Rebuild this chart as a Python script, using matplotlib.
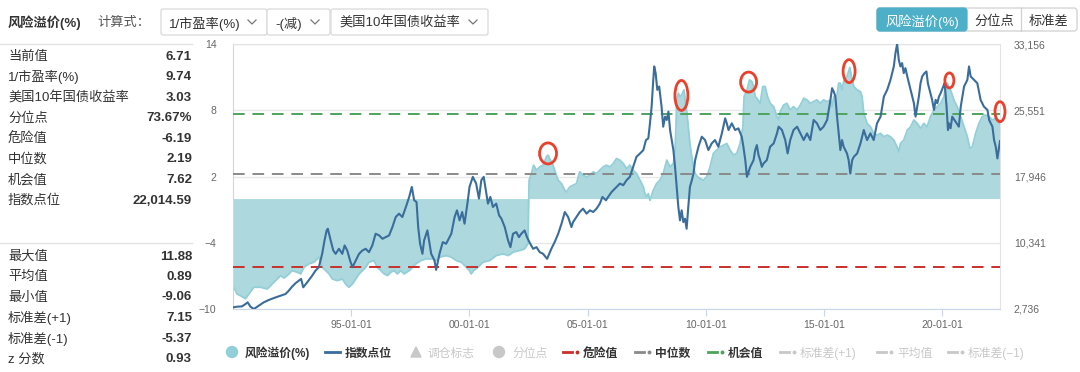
import numpy as np
import matplotlib
matplotlib.use('Agg')
import matplotlib.pyplot as plt
from matplotlib.lines import Line2D
from matplotlib.patches import Ellipse, FancyBboxPatch, Rectangle, Circle, Polygon
from matplotlib.transforms import ScaledTranslation

plt.rcParams['font.family'] = ['Liberation Sans', 'Noto Sans CJK SC', 'DejaVu Sans']

# Hang Seng index level (right axis)
idx_year = [1990.01, 1990.18, 1990.39, 1990.54, 1990.63, 1990.75, 1990.89, 1991.10, 1991.31, 1991.52,
            1991.74, 1992.02, 1992.23, 1992.37, 1992.51, 1992.65, 1992.80, 1992.89, 1992.98, 1993.15,
            1993.36, 1993.50, 1993.64, 1993.78, 1993.88, 1993.97, 1994.02, 1994.14, 1994.25, 1994.35,
            1994.49, 1994.63, 1994.73, 1994.84, 1994.96, 1995.06, 1995.20, 1995.34, 1995.48, 1995.62,
            1995.76, 1995.90, 1996.04, 1996.19, 1996.33, 1996.47, 1996.61, 1996.75, 1996.89, 1997.03,
            1997.17, 1997.32, 1997.46, 1997.57, 1997.67, 1997.77, 1997.84, 1997.92, 1998.02, 1998.09,
            1998.23, 1998.39, 1998.53, 1998.60, 1998.74, 1998.88, 1999.02, 1999.24, 1999.38, 1999.48,
            1999.59, 1999.70, 1999.80, 1999.94, 2000.01, 2000.15, 2000.29, 2000.41, 2000.51, 2000.61,
            2000.72, 2000.79, 2000.89, 2001.00, 2001.14, 2001.26, 2001.36, 2001.50, 2001.64, 2001.74,
            2001.85, 2001.99, 2002.10, 2002.20, 2002.34, 2002.44, 2002.58, 2002.70, 2002.84, 2002.98,
            2003.12, 2003.29, 2003.47, 2003.61, 2003.76, 2003.90, 2004.04, 2004.18, 2004.32, 2004.39,
            2004.53, 2004.67, 2004.81, 2004.96, 2005.10, 2005.24, 2005.38, 2005.52, 2005.63, 2005.78,
            2005.87, 2006.02, 2006.16, 2006.37, 2006.51, 2006.65, 2006.79, 2006.93, 2007.07, 2007.22,
            2007.36, 2007.47, 2007.57, 2007.64, 2007.71, 2007.78, 2007.82, 2007.88, 2007.95, 2008.03,
            2008.13, 2008.20, 2008.28, 2008.35, 2008.42, 2008.49, 2008.56, 2008.63, 2008.70, 2008.77,
            2008.84, 2008.91, 2008.98, 2009.05, 2009.12, 2009.19, 2009.26, 2009.33, 2009.41, 2009.48,
            2009.55, 2009.69, 2009.83, 2009.97, 2010.11, 2010.25, 2010.39, 2010.53, 2010.68, 2010.82,
            2010.89, 2010.96, 2011.10, 2011.24, 2011.38, 2011.52, 2011.59, 2011.67, 2011.74, 2011.81,
            2011.88, 2011.95, 2012.02, 2012.09, 2012.16, 2012.23, 2012.30, 2012.37, 2012.44, 2012.58,
            2012.72, 2012.87, 2013.01, 2013.08, 2013.22, 2013.36, 2013.46, 2013.57, 2013.71, 2013.86,
            2014.00, 2014.14, 2014.28, 2014.42, 2014.56, 2014.70, 2014.84, 2014.98, 2015.13, 2015.27,
            2015.34, 2015.41, 2015.48, 2015.55, 2015.62, 2015.69, 2015.76, 2015.83, 2015.97, 2016.04,
            2016.11, 2016.19, 2016.26, 2016.40, 2016.54, 2016.68, 2016.82, 2016.96, 2017.10, 2017.24,
            2017.39, 2017.53, 2017.67, 2017.81, 2017.88, 2017.95, 2018.02, 2018.09, 2018.16, 2018.23,
            2018.30, 2018.37, 2018.44, 2018.52, 2018.66, 2018.80, 2018.87, 2018.94, 2019.01, 2019.08,
            2019.15, 2019.25, 2019.33, 2019.39, 2019.50, 2019.57, 2019.65, 2019.72, 2019.79, 2019.86,
            2019.93, 2020.04, 2020.10, 2020.18, 2020.24, 2020.28, 2020.35, 2020.42, 2020.56, 2020.70,
            2020.78, 2020.92, 2021.06, 2021.13, 2021.20, 2021.34, 2021.48, 2021.62, 2021.76, 2021.91,
            2021.98, 2022.12, 2022.19, 2022.26, 2022.33, 2022.40, 2022.44]
idx_level = [2924, 3001, 3039, 3308, 3500, 3001, 2736, 3116, 3500, 3769,
             3999, 4268, 4460, 4844, 5305, 5689, 5997, 6189, 5228, 5804,
             6572, 7149, 7533, 9070, 10606, 11758, 11950, 10606, 9454, 9070,
             9646, 9070, 10030, 9454, 8302, 7533, 8302, 9070, 9454, 9646,
             9262, 10030, 11374, 11182, 10798, 10990, 11182, 12142, 13295, 13679,
             13295, 14447, 15599, 16752, 15215, 15023, 12142, 10222, 9070, 10606,
             11758, 9070, 8302, 7226, 9070, 10414, 10222, 11374, 13295, 14061,
             12911, 13871, 12526, 15215, 16752, 17904, 17136, 15407, 17520, 17904,
             15983, 14831, 15599, 14447, 14831, 13487, 13103, 12142, 10606, 9838,
             11374, 11566, 10990, 11374, 11758, 10990, 10222, 9646, 9838, 9262,
             9070, 8494, 9646, 10414, 11374, 12526, 13871, 13295, 12142, 12718,
             13295, 13871, 14255, 13679, 14061, 13871, 14255, 14831, 15599, 15215,
             15599, 16176, 16560, 17136, 16944, 17520, 17904, 19056, 20209, 20593,
             20977, 22129, 22321, 24050, 25970, 29043, 30579, 29811, 27891, 28275,
             25970, 23665, 24818, 24434, 25394, 23281, 22129, 20977, 19056, 16752,
             14447, 12911, 14061, 12718, 13103, 11950, 14447, 16752, 17520, 18288,
             19824, 21361, 22513, 22129, 20977, 21745, 22129, 21361, 22897, 24626,
             24050, 23281, 24050, 23281, 23474, 22513, 21361, 19824, 17904, 18480,
             19056, 19440, 19824, 20977, 21553, 20401, 19824, 19056, 19440, 19824,
             21361, 21745, 22897, 23665, 23281, 22129, 20593, 22129, 23281, 23665,
             22897, 22129, 22897, 22129, 24434, 24050, 23281, 23665, 24434, 26738,
             28083, 27699, 27122, 24818, 22897, 20977, 22129, 21361, 20593, 19824,
             18288, 19824, 20209, 20593, 21745, 23281, 22129, 22897, 22129, 24050,
             24818, 27122, 27891, 29043, 29811, 30579, 32116, 33156, 31347, 30579,
             30963, 29811, 30387, 29427, 27891, 26354, 24818, 25970, 27122, 28659,
             29427, 29811, 30003, 28659, 27506, 26738, 25586, 26738, 26354, 27122,
             27506, 28275, 28659, 25970, 23281, 24050, 23474, 24818, 24242, 23665,
             25970, 28275, 29043, 30579, 29427, 29043, 28659, 26738, 25970, 25586,
             24434, 23665, 22129, 21361, 20017, 21300, 22015]

# risk premium (%) = 1/PE - US 10y yield (left axis)
prem_year = [1990.01, 1990.18, 1990.32, 1990.54, 1990.68, 1990.89, 1991.17, 1991.45, 1991.67, 1991.88,
             1992.02, 1992.16, 1992.30, 1992.51, 1992.72, 1992.87, 1993.01, 1993.22, 1993.43, 1993.64,
             1993.78, 1993.93, 1994.07, 1994.21, 1994.42, 1994.63, 1994.77, 1994.91, 1995.06, 1995.20,
             1995.34, 1995.48, 1995.62, 1995.76, 1995.97, 1996.11, 1996.26, 1996.40, 1996.54, 1996.68,
             1996.82, 1996.96, 1997.10, 1997.24, 1997.46, 1997.60, 1997.74, 1997.95, 1998.16, 1998.46,
             1998.60, 1998.74, 1999.02, 1999.24, 1999.45, 1999.66, 1999.87, 2000.01, 2000.08, 2000.18,
             2000.37, 2000.58, 2000.86, 2001.14, 2001.42, 2001.64, 2001.85, 2002.13, 2002.34, 2002.48,
             2002.53, 2002.63, 2002.72, 2002.84, 2002.98, 2003.12, 2003.26, 2003.33, 2003.43, 2003.54,
             2003.61, 2003.76, 2003.90, 2004.04, 2004.11, 2004.25, 2004.39, 2004.53, 2004.67, 2004.81,
             2004.96, 2005.10, 2005.24, 2005.38, 2005.52, 2005.66, 2005.80, 2005.94, 2006.09, 2006.23,
             2006.37, 2006.51, 2006.65, 2006.79, 2006.93, 2007.07, 2007.22, 2007.36, 2007.43, 2007.50,
             2007.57, 2007.64, 2007.71, 2007.78, 2007.92, 2008.06, 2008.20, 2008.35, 2008.49, 2008.63,
             2008.70, 2008.74, 2008.77, 2008.84, 2008.91, 2008.98, 2009.08, 2009.17, 2009.22, 2009.29,
             2009.33, 2009.41, 2009.48, 2009.55, 2009.65, 2009.76, 2009.90, 2010.04, 2010.18, 2010.32,
             2010.46, 2010.61, 2010.75, 2010.89, 2011.03, 2011.17, 2011.31, 2011.45, 2011.57, 2011.62,
             2011.74, 2011.85, 2011.95, 2012.02, 2012.09, 2012.16, 2012.30, 2012.41, 2012.51, 2012.61,
             2012.72, 2012.87, 2013.01, 2013.08, 2013.15, 2013.29, 2013.43, 2013.57, 2013.71, 2013.86,
             2014.00, 2014.14, 2014.28, 2014.42, 2014.56, 2014.70, 2014.84, 2014.98, 2015.13, 2015.27,
             2015.34, 2015.41, 2015.55, 2015.62, 2015.69, 2015.76, 2015.83, 2015.97, 2016.09, 2016.19,
             2016.26, 2016.40, 2016.54, 2016.61, 2016.68, 2016.82, 2016.96, 2017.10, 2017.24, 2017.39,
             2017.53, 2017.67, 2017.81, 2017.95, 2018.09, 2018.16, 2018.23, 2018.37, 2018.52, 2018.66,
             2018.80, 2018.94, 2019.08, 2019.22, 2019.36, 2019.50, 2019.65, 2019.79, 2019.93, 2020.07,
             2020.14, 2020.21, 2020.28, 2020.35, 2020.42, 2020.49, 2020.63, 2020.78, 2020.92, 2021.06,
             2021.17, 2021.27, 2021.41, 2021.55, 2021.69, 2021.83, 2021.98, 2022.12, 2022.26, 2022.40,
             2022.44]
prem_value = [-7.88, -8.64, -8.79, -9.06, -8.64, -8.03, -8.03, -8.19, -7.73, -7.28,
              -6.97, -7.19, -6.97, -6.52, -6.67, -6.82, -6.22, -5.91, -5.76, -5.31,
              -6.22, -6.52, -6.82, -7.28, -7.43, -7.28, -7.73, -8.03, -7.73, -7.28,
              -6.82, -6.52, -6.22, -5.76, -5.61, -6.22, -6.52, -6.82, -6.97, -6.67,
              -6.52, -6.82, -6.52, -6.82, -6.52, -6.22, -5.91, -5.61, -5.46, -5.46,
              -5.61, -5.31, -5.16, -5.31, -5.61, -5.76, -6.22, -6.52, -6.82, -6.52,
              -6.22, -5.76, -5.61, -5.16, -5.00, -5.16, -4.85, -4.70, -4.55, -4.09,
              1.66, 2.27, 3.03, 2.57, 2.87, 3.03, 3.78, 3.94, 3.48, 3.03,
              2.57, 1.66, 1.36, 0.75, 0.60, 1.06, 1.21, 1.36, 2.42, 2.12,
              1.97, 2.12, 2.42, 2.27, 2.57, 2.87, 3.03, 2.87, 3.18, 3.63,
              3.48, 3.18, 2.72, 3.03, 2.57, 2.27, 1.66, 1.06, 0.45, 0.15,
              0.45, -0.16, 0.30, 0.75, 1.36, 1.66, 2.27, 3.48, 2.87, 3.18,
              4.39, 6.51, 8.94, 9.54, 9.24, 9.39, 9.84, 8.33, 7.42, 5.91,
              4.99, 3.78, 2.87, 2.27, 1.97, 1.82, 1.66, 1.97, 2.87, 4.09,
              4.39, 4.69, 4.84, 4.99, 4.39, 3.94, 4.09, 4.99, 6.51, 9.24,
              9.84, 10.75, 10.60, 10.15, 9.24, 9.09, 8.63, 10.15, 10.15, 9.24,
              8.63, 8.33, 7.42, 7.12, 7.88, 8.48, 8.63, 8.03, 8.33, 8.03,
              8.48, 9.09, 8.94, 8.63, 8.78, 8.94, 8.63, 8.94, 8.78, 8.94,
              8.33, 9.24, 9.39, 10.45, 10.45, 9.84, 10.60, 11.06, 11.88, 10.75,
              10.15, 9.84, 9.69, 9.24, 7.72, 6.81, 6.51, 5.91, 5.75, 5.91,
              5.60, 5.75, 5.60, 5.30, 4.69, 4.24, 4.99, 5.30, 6.21, 6.51,
              7.12, 6.81, 6.36, 6.81, 6.51, 7.42, 8.03, 8.33, 8.63, 9.24,
              10.30, 10.45, 10.15, 9.84, 9.39, 8.94, 8.33, 7.42, 6.51, 5.60,
              4.54, 4.69, 5.91, 6.81, 7.42, 7.57, 7.42, 7.12, 7.27, 7.12,
              6.71]

danger_value = -6.19
median_value = 2.19
chance_value = 7.62

left_ticks = [-10, -4, 2, 8, 14]
right_ticks = [2736, 10341, 17946, 25551, 33156]
x_ticks = [1995, 2000, 2005, 2010, 2015, 2020]
x_ticklabels = ['95-01-01', '00-01-01', '05-01-01', '10-01-01', '15-01-01', '20-01-01']

# highlighted premium peaks (red rings)
ring_year = [2003.33, 2008.97, 2011.81, 2016.06, 2020.30, 2022.44]
ring_value = [4.09, 9.34, 10.55, 11.54, 10.70, 7.87]

stat_labels_top = ['当前值', '1/市盈率(%)', '美国10年国债收益率', '分位点', '危险值', '中位数', '机会值', '指数点位']
stat_values_top = ['6.71', '9.74', '3.03', '73.67%', '-6.19', '2.19', '7.62', '22,014.59']
stat_labels_bottom = ['最大值', '平均值', '最小值', '标准差(+1)', '标准差(-1)', 'z 分数']
stat_values_bottom = ['11.88', '0.89', '-9.06', '7.15', '-5.37', '0.93']

W, H = 1080, 372
fig = plt.figure(figsize=(W / 100, H / 100), dpi=100)

# overlay in pixel coords for the page furniture
bg = fig.add_axes([0, 0, 1, 1])
bg.set_xlim(0, W)
bg.set_ylim(H, 0)
bg.axis('off')

dark = '#333333'
vc = 'center_baseline'

# header row
bg.text(8, 21, '风险溢价(%)', fontsize=9.5, fontweight='bold', color=dark, va=vc)
bg.text(97, 21, '计算式：', fontsize=9.5, color='#555555', va=vc)
for x0, x1, label, chev in [(161, 267, '1/市盈率(%)', 252), (267, 330, '-(减)', 315),
                            (331, 488, '美国10年国债收益率', 473)]:
    bg.add_patch(FancyBboxPatch((x0, 9), x1 - x0, 26, boxstyle='round,pad=0,rounding_size=2',
                                fc='white', ec='#d9d9d9', lw=0.9))
    bg.text(x0 + 8, 22, label, fontsize=9.5, color=dark, va=vc)
    bg.plot([chev - 4, chev, chev + 4], [20, 24, 20], color='#777777', lw=0.9)

# toggle buttons top right
bg.add_patch(FancyBboxPatch((877, 8), 200, 23, boxstyle='round,pad=0,rounding_size=3',
                            fc='white', ec='#d0d0d0', lw=0.9))
bg.add_patch(FancyBboxPatch((877, 8), 90, 23, boxstyle='round,pad=0,rounding_size=3',
                            fc='#4eafc9', ec='#4eafc9', lw=0.9))
bg.plot([1021, 1021], [8, 31], color='#d0d0d0', lw=0.9)
bg.text(922, 20, '风险溢价(%)', fontsize=9.5, color='white', ha='center', va=vc)
bg.text(994, 20, '分位点', fontsize=9.5, color=dark, ha='center', va=vc)
bg.text(1049, 20, '标准差', fontsize=9.5, color=dark, ha='center', va=vc)

# left stats panel
bg.plot([0, 192], [44, 44], color='#e3e3e3', lw=1)
for i, (lab, val) in enumerate(zip(stat_labels_top, stat_values_top)):
    y = 55 + i * 20.6
    bg.text(8, y, lab, fontsize=9.5, color=dark, va=vc)
    bg.text(192, y, val, fontsize=9.5, color=dark, fontweight='bold', ha='right', va=vc)
bg.plot([0, 192], [243, 243], color='#e3e3e3', lw=1)
for i, (lab, val) in enumerate(zip(stat_labels_bottom, stat_values_bottom)):
    y = 255 + i * 20.5
    bg.text(8, y, lab, fontsize=9.5, color=dark, va=vc)
    bg.text(192, y, val, fontsize=9.5, color=dark, fontweight='bold', ha='right', va=vc)

# legend row
ly = 352
grey = '#c8c8c8'
bg.add_patch(Circle((232, ly), 5.5, color='#93cfd8'))
bg.text(245, ly, '风险溢价(%)', fontsize=8.5, color=dark, fontweight='bold', va=vc)
bg.plot([325, 340], [ly, ly], color='#3a6d9b', lw=2)
bg.text(345, ly, '指数点位', fontsize=8.5, color=dark, fontweight='bold', va=vc)
bg.add_patch(Polygon([[411, ly + 5], [421, ly + 5], [416, ly - 5]], color=grey))
bg.text(428, ly, '调仓标志', fontsize=8.5, color=grey, va=vc)
bg.add_patch(Circle((499, ly), 5.5, color=grey))
bg.text(512, ly, '分位点', fontsize=8.5, color=grey, va=vc)
for x0, col, label, active in [(563, '#c9302c', '危险值', True), (635, '#8a8a8a', '中位数', True),
                               (708, '#4ea35c', '机会值', True), (780, grey, '标准差(+1)', False),
                               (877, grey, '平均值', False), (948, grey, '标准差(−1)', False)]:
    bg.plot([x0, x0 + 9], [ly, ly], color=col, lw=2)
    bg.plot([x0 + 14], [ly], marker='o', ms=1.8, color=col)
    bg.text(x0 + 20, ly, label, fontsize=8.5, color=dark if active else grey,
            fontweight='bold' if active else 'normal', va=vc)

# main chart
ax = fig.add_axes([233 / W, 1 - 309 / H, (1000 - 233) / W, (309 - 44) / H])
ax.fill_between(prem_year, 0, prem_value, color='#acd8de', lw=0, zorder=1)
ax.plot(prem_year, prem_value, color='#93cfd8', lw=1.3, zorder=2)
ax.axhline(chance_value, color='#4ea35c', lw=1.4, dashes=(6, 4), zorder=3)
ax.axhline(median_value, color='#8a8a8a', lw=1.4, dashes=(6, 4), zorder=3)
ax.axhline(danger_value, color='#c9302c', lw=1.4, dashes=(6, 4), zorder=3)
ax.set_xlim(prem_year[0], prem_year[-1])
ax.set_ylim(left_ticks[0], left_ticks[-1])
ax.set_yticks(left_ticks)
ax.grid(axis='y', color='#e8e8e8', lw=1)
ax.set_axisbelow(True)
ax.set_xticks(x_ticks)
ax.set_xticklabels(x_ticklabels)
ax.tick_params(axis='y', length=0, labelsize=7.5, labelcolor='#666666', pad=12)
ax.tick_params(axis='x', length=5, color='#ccd6eb', labelsize=7.5, labelcolor='#666666', pad=3)
for side in ['left', 'bottom']:
    ax.spines[side].set_color('#ccd6eb')
for side in ['top', 'right']:
    ax.spines[side].set_color('#e3e3e3')

ax2 = ax.twinx()
ax2.plot(idx_year, idx_level, color='#3a6d9b', lw=1.5, zorder=3)
ax2.set_ylim(right_ticks[0], right_ticks[-1])
ax2.set_yticks(right_ticks)
ax2.set_yticklabels([f'{v:,}' for v in right_ticks])
ax2.tick_params(axis='y', length=0, labelsize=7.5, labelcolor='#666666', pad=10)
for s in ax2.spines.values():
    s.set_visible(False)

ring_size = [(17, 21), (13, 30), (16, 20), (12, 23), (9, 15), (10, 20)]
for (yr, val), (w, h) in zip(zip(ring_year, ring_value), ring_size):
    tr = fig.dpi_scale_trans + ScaledTranslation(yr, val, ax.transData)
    ax2.add_patch(Ellipse((0, 0), w / 100, h / 100, transform=tr, fill=False,
                          ec='#e8412c', lw=2, clip_on=False, zorder=5))

fig.savefig('out.png', dpi=100)
